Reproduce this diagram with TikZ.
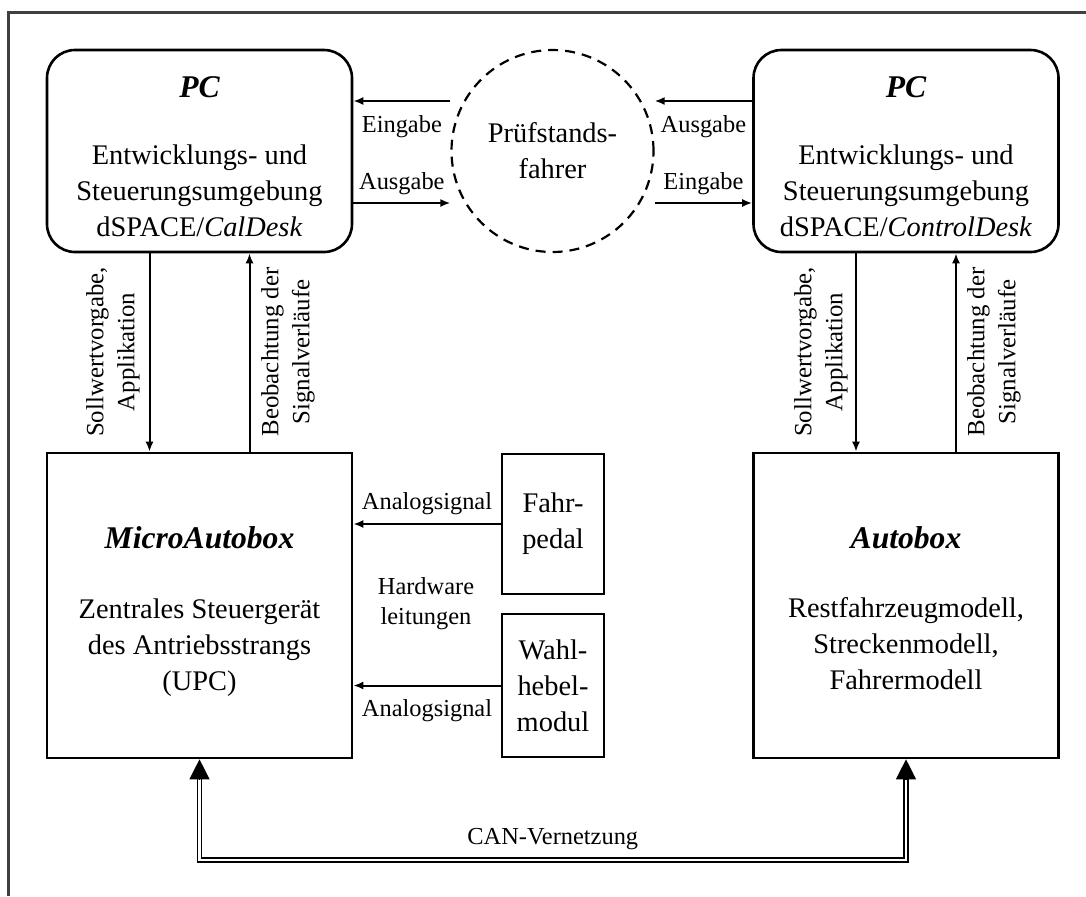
\documentclass[tikz,border=0pt]{standalone}
\usepackage{fontspec}
\setmainfont{Liberation Serif}
\usepackage{tikz}
\usetikzlibrary{arrows.meta,shapes,positioning}
\newcommand{\txtbody}{\fontsize{14.2}{18}\selectfont}
\newcommand{\txtttl}{\fontsize{15.8}{18}\selectfont\bfseries\itshape}
\newcommand{\txtlab}{\fontsize{12.2}{15}\selectfont}
\newcommand{\txtvlab}{\fontsize{12.4}{15.5}\selectfont}
\tikzstyle{frame}=[line width=1.5pt,draw=black!75]
\tikzstyle{sig}=[-{Latex[length=5pt,width=4pt]},line width=1pt]
\tikzstyle{can}=[double,double distance=1.3pt,line width=0.8pt,shorten <=9pt,shorten >=9pt]
\tikzstyle{cantip}=[-{Triangle[length=10pt,width=10pt]},line width=0.6pt]
\tikzstyle{pcbox}=[draw,rounded corners=14pt,minimum width=152.5pt,minimum height=101pt,inner sep=0,line width=1.3pt]
\tikzstyle{hwbox}=[draw,minimum width=152.5pt,minimum height=152.5pt,inner sep=0,line width=1.3pt]
\tikzstyle{devbox}=[draw,minimum width=51pt,inner sep=0,line width=1.3pt,align=center,font=\txtbody]
\tikzstyle{driver}=[draw,circle,dash pattern=on 5pt off 3.5pt,line width=1.1pt,minimum size=101pt,inner sep=0,align=center,font=\txtbody]
\tikzstyle{ttl}=[font=\txtttl,inner sep=0]
\tikzstyle{body}=[font=\txtbody,align=center,inner sep=0]
\tikzstyle{lab}=[font=\txtlab,inner sep=2pt]
\tikzstyle{vlab}=[font=\txtvlab,align=center,rotate=90,inner sep=0]

\begin{document}
\begin{tikzpicture}[x=0.5pt,y=-0.5pt]
\path[use as bounding box] (0,0) rectangle (1086,896);
\draw[frame] (8,896) -- (8,12) -- (1086,12);

% PCs and driver
\node[pcbox] (pcl) at (199.5,151) {};
\node[ttl,above of=pcl,node distance=32pt] (pcltit) {PC};
\node[body,below of=pcl,node distance=20pt] (pclbody)
{Entwicklungs- und\\Steuerungsumgebung\\dSPACE/\textit{CalDesk}};

\node[driver] (drv) at (552.5,151) {Prüfstands-\\fahrer};

\node[pcbox] (pcr) at (906,151) {};
\node[ttl,above of=pcr,node distance=32pt] (pcrtit) {PC};
\node[body,below of=pcr,node distance=20pt] (pcrbody)
{Entwicklungs- und\\Steuerungsumgebung\\dSPACE/\textit{ControlDesk}};

% hardware
\node[hwbox] (mab) at (199.5,605.5) {};
\node[ttl,above of=mab,node distance=33.75pt] (mabtit) {MicroAutobox};
\node[body,below of=mab,node distance=21pt] (mabbody)
{Zentrales Steuergerät\\des Antriebsstrangs\\(UPC)};

\node[devbox,minimum height=70pt] (fp) at (553,524) {Fahr-\\pedal};
\node[devbox,minimum height=71.5pt] (wh) at (553,685.5) {Wahl-\\hebel-\\modul};
\node[lab,align=center] (hwl) at (426,604) {Hardware\\leitungen};

\node[hwbox] (ab) at (906,605.5) {};
\node[ttl,above of=ab,node distance=33.75pt] (abtit) {Autobox};
\node[body,below of=ab,node distance=19pt] (abbody)
{Restfahrzeugmodell,\\Streckenmodell,\\Fahrermodell};

% PC <-> driver
\coordinate (lin) at ([yshift=25pt]pcl.east);
\coordinate (lout) at ([yshift=-26pt]pcl.east);
\coordinate (rout) at ([yshift=25pt]pcr.west);
\coordinate (rin) at ([yshift=-26pt]pcr.west);
\draw[sig] (lin -| drv.west) -- (lin) node[lab,midway,below=5pt] {Eingabe};
\draw[sig] (lout) -- (lout -| drv.west) node[lab,midway,above=1.5pt] {Ausgabe};
\draw[sig] (rout) -- (rout -| drv.east) node[lab,midway,below=5pt] {Ausgabe};
\draw[sig] (rin -| drv.east) -- (rin) node[lab,midway,above=1.5pt] {Eingabe};

% PC <-> box
\draw[sig] ([xshift=-25pt]pcl.south) -- ([xshift=-25pt]mab.north);
\draw[sig] ([xshift=25pt]mab.north) -- ([xshift=25pt]pcl.south);
\draw[sig] ([xshift=-25pt]pcr.south) -- ([xshift=-25pt]ab.north);
\draw[sig] ([xshift=25pt]ab.north) -- ([xshift=25pt]pcr.south);
\node[vlab] (slwl) at (113,352) {Sollwertvorgabe,\\Applikation};
\node[vlab] (beol) at (288,352) {Beobachtung der\\Signalverläufe};
\node[vlab] (slwr) at (821,352) {Sollwertvorgabe,\\Applikation};
\node[vlab] (beor) at (994,352) {Beobachtung der\\Signalverläufe};

% analog lines
\draw[sig] (fp.west) -- (fp.west -| mab.east) node[lab,midway,above=2pt] {Analogsignal};
\draw[sig] (wh.west) -- (wh.west -| mab.east) node[lab,midway,below=4.5pt] {Analogsignal};

% CAN
\coordinate (canrow) at (0,860);
\draw[can] (mab.south) -- (mab.south |- canrow) -- (ab.south |- canrow)
  node[lab,midway,above=2.5pt] {CAN-Vernetzung} -- (ab.south);
\draw[cantip] ([yshift=-10pt]mab.south) -- (mab.south);
\draw[cantip] ([yshift=-10pt]ab.south) -- (ab.south);
\end{tikzpicture}
\end{document}
